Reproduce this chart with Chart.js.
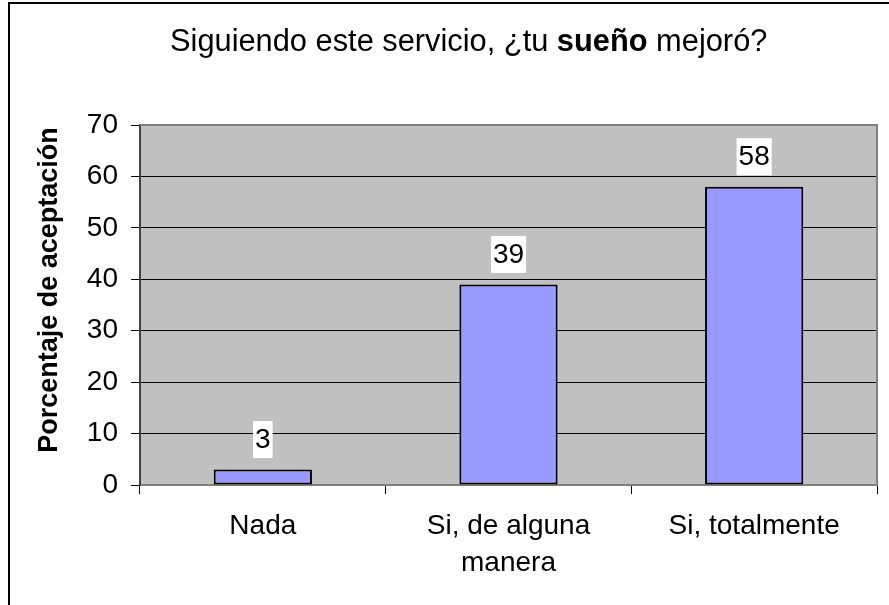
<!DOCTYPE html>
<html lang="es">
<head>
    <meta charset="UTF-8">
    <title>Siguiendo este servicio, ¿tu sueño mejoró?</title>
    <script src="https://cdn.jsdelivr.net/npm/chart.js"></script>
    <style>
        body {
            margin: 0;
            padding: 0;
            background-color: #ffffff;
        }
        #chart {
            display: block;
        }
    </style>
</head>
<body>
    <canvas id="chart" width="889" height="605"></canvas>

    <script>
        // chart data
        const categories = ['Nada', ['Si, de alguna', 'manera'], 'Si, totalmente'];
        const values = [3, 39, 58];
        const yTicks = [0, 10, 20, 30, 40, 50, 60, 70];

        const titleParts = [
            { text: 'Siguiendo este servicio, ¿tu ', bold: false },
            { text: 'sueño', bold: true },
            { text: ' mejoró?', bold: false }
        ];
        const yTitle = 'Porcentaje de aceptación';

        const FONT = '"Liberation Sans", Arial, sans-serif';

        // frame, plot background, mixed-weight title and axis title
        const decorPlugin = {
            id: 'decor',
            beforeDraw(chart) {
                const c = chart.ctx;
                const a = chart.chartArea;
                c.save();
                c.fillStyle = '#ffffff';
                c.fillRect(0, 0, chart.width, chart.height);
                c.strokeStyle = '#000000';
                c.lineWidth = 2;
                c.strokeRect(9, 3, chart.width + 10, chart.height + 10);
                c.fillStyle = '#c0c0c0';
                c.fillRect(a.left, a.top, a.right - a.left, a.bottom - a.top);
                c.restore();
            },
            afterDraw(chart) {
                const c = chart.ctx;
                const a = chart.chartArea;
                c.save();
                // top and right border of the plot area
                c.strokeStyle = '#808080';
                c.lineWidth = 2;
                c.beginPath();
                c.moveTo(a.left, a.top);
                c.lineTo(a.right, a.top);
                c.lineTo(a.right, a.bottom);
                c.stroke();

                // title
                c.fillStyle = '#000000';
                c.textBaseline = 'alphabetic';
                c.textAlign = 'left';
                let x = 170;
                titleParts.forEach(p => {
                    c.font = (p.bold ? 'bold ' : '') + '30.8px ' + FONT;
                    c.fillText(p.text, x, 51);
                    x += c.measureText(p.text).width;
                });

                // y axis title
                c.translate(50, 290);
                c.rotate(-Math.PI / 2);
                c.font = 'bold 27px ' + FONT;
                c.textAlign = 'center';
                c.textBaseline = 'middle';
                c.fillText(yTitle, 0, 0);
                c.restore();
            }
        };

        // value labels on white boxes above the bars
        const valueLabels = {
            id: 'valueLabels',
            afterDatasetsDraw(chart) {
                const c = chart.ctx;
                const meta = chart.getDatasetMeta(0);
                c.save();
                c.font = '28px ' + FONT;
                c.textAlign = 'center';
                c.textBaseline = 'middle';
                meta.data.forEach((bar, i) => {
                    const txt = String(values[i]);
                    const w = c.measureText(txt).width + 4;
                    const h = 37;
                    const cy = bar.y - 11.5 - h / 2;
                    c.fillStyle = '#ffffff';
                    c.fillRect(bar.x - w / 2, cy - h / 2, w, h);
                    c.fillStyle = '#000000';
                    c.fillText(txt, bar.x, cy + 1);
                });
                c.restore();
            }
        };

        const ctx = document.getElementById('chart').getContext('2d');
        const chart = new Chart(ctx, {
            type: 'bar',
            data: {
                labels: categories,
                datasets: [{
                    data: values,
                    backgroundColor: '#9999ff',
                    borderColor: '#000000',
                    borderWidth: 2,
                    borderSkipped: false,
                    categoryPercentage: 0.4,
                    barPercentage: 1.0
                }]
            },
            options: {
                responsive: false,
                animation: false,
                layout: {
                    padding: { top: 125, right: 12, left: 0, bottom: 0 }
                },
                plugins: {
                    legend: { display: false },
                    title: { display: false },
                    tooltip: { enabled: false }
                },
                scales: {
                    x: {
                        offset: true,
                        grid: {
                            offset: true,
                            drawOnChartArea: false,
                            color: '#000000',
                            tickLength: 9
                        },
                        border: { color: '#808080', width: 2 },
                        ticks: {
                            color: '#000000',
                            font: { family: FONT, size: 28, lineHeight: 1.35 },
                            padding: 13,
                            maxRotation: 0,
                            autoSkip: false
                        },
                        afterFit(scale) {
                            scale.height = 120;
                        }
                    },
                    y: {
                        min: 0,
                        max: 70,
                        afterBuildTicks(scale) {
                            scale.ticks = yTicks.map(v => ({ value: v }));
                        },
                        grid: {
                            color: '#000000',
                            tickLength: 9
                        },
                        border: { color: '#404040', width: 2 },
                        ticks: {
                            color: '#000000',
                            font: { family: FONT, size: 28 },
                            padding: 13
                        },
                        afterFit(scale) {
                            scale.width = 140;
                        }
                    }
                }
            },
            plugins: [decorPlugin, valueLabels]
        });
    </script>
</body>
</html>
